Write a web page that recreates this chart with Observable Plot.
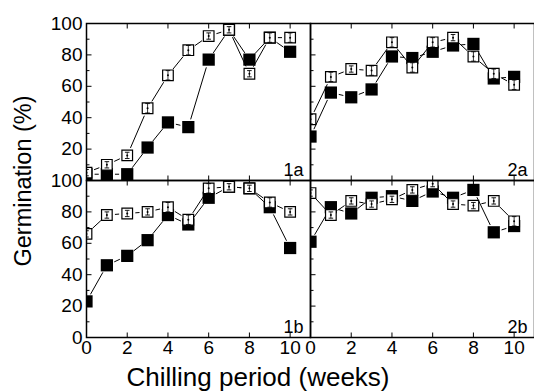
<!DOCTYPE html>
<html><head><meta charset="utf-8">
<script src="https://cdn.jsdelivr.net/npm/d3@7"></script>
<script src="https://cdn.jsdelivr.net/npm/@observablehq/plot@0.6"></script>
<style>body{margin:0;background:#fff} svg{display:block}</style>
</head><body><div id="chart"></div>
<script>
const weeks = [0,1,2,3,4,5,6,7,8,9,10];
// open squares (with error bars) and filled squares for each panel
const open1a   = [5, 10, 16, 46, 67, 83, 92, 96, 68, 91, 91];
const filled1a = [4, 4, 4, 21, 37, 34, 77, 96, 77, 91, 82];
const open2a   = [39, 66, 71, 70, 88, 72, 88, 91, 79, 68, 61];
const filled2a = [28, 56, 53, 58, 79, 78, 82, 86, 87, 65, 66];
const open1b   = [66, 78, 79, 80, 83, 75, 95, 96, 95, 86, 80];
const filled1b = [23, 46, 52, 62, 78, 72, 89, 96, 95, 83, 57];
const open2b   = [92, 78, 87, 85, 88, 94, 98, 85, 84, 87, 74];
const filled2b = [61, 83, 79, 89, 90, 87, 93, 89, 94, 67, 71];
const err1a = [2, 2, 2, 3, 3, 3, 2, 2, 2, 3, 3];
const err2a = [3, 3, 2, 3, 3, 3, 3, 2, 3, 3, 3];
const err1b = [2, 2, 2, 2, 3, 3, 3, 2, 2, 3, 2];
const err2b = [2, 2, 2, 2, 2, 2, 2, 2, 2, 2, 3];
const panelNames = ["1a", "2a", "1b", "2b"];
const xTicks = [0, 2, 4, 6, 8, 10];
const yTicks = [0, 20, 40, 60, 80, 100];
const yMinor = [10, 30, 50, 70, 90];
const yLabelsTop = [20, 40, 60, 80, 100];
const yLabelsBottom = [0, 20, 40, 60, 80, 100];
const xTitle = "Chilling period (weeks)";
const yTitle = "Germination (%)";

const series = [
  {p:"1a", type:"filled", v:filled1a}, {p:"1a", type:"open", v:open1a, e:err1a},
  {p:"2a", type:"filled", v:filled2a}, {p:"2a", type:"open", v:open2a, e:err2a},
  {p:"1b", type:"filled", v:filled1b}, {p:"1b", type:"open", v:open1b, e:err1b},
  {p:"2b", type:"filled", v:filled2b}, {p:"2b", type:"open", v:open2b, e:err2b}
];
const col = p => +p[0], row = p => p[1];
const pts = series.flatMap(s => s.v.map((v,i) => ({col:col(s.p), row:row(s.p), type:s.type, week:weeks[i], value:v, err:s.e ? s.e[i] : 0})));
const segs = series.flatMap(s => s.v.slice(1).map((v,i) => ({col:col(s.p), row:row(s.p), x1:weeks[i], y1:s.v[i], x2:weeks[i+1], y2:v})));
const labels = panelNames.map(p => ({col:col(p), row:row(p), text:p}));
const yLabels = [
  ...yLabelsTop.map(v => ({col:1, row:"a", v})),
  ...yLabelsBottom.map(v => ({col:1, row:"b", v}))
];
const filled = pts.filter(d => d.type === "filled");
const open = pts.filter(d => d.type === "open");

const seg = (x1,y1,x2,y2) => ({draw(ctx){ctx.moveTo(x1,y1); ctx.lineTo(x2,y2);}});
const cap = seg(-2.3,0,2.3,0);

const svg = Plot.plot({
  width: 534, height: 391,
  marginLeft: 86, marginRight: 0, marginTop: 22, marginBottom: 54,
  x: {domain: [0, 11], axis: null},
  y: {domain: [0, 100], axis: null},
  fx: {domain: [1, 2], axis: null, padding: 0},
  fy: {domain: ["a", "b"], axis: null, padding: 0},
  style: {fontFamily: "'Liberation Sans', Arial, sans-serif", background: "white", color: "black"},
  marks: [
    Plot.dot(xTicks, {x: d => d, frameAnchor: "bottom", symbol: seg(0,0,0,-5), fill: "none", stroke: "black", strokeWidth: 1}),
    Plot.dot(xTicks, {x: d => d, frameAnchor: "top", symbol: seg(0,0,0,5), fill: "none", stroke: "black", strokeWidth: 1}),
    Plot.dot(yTicks, {y: d => d, frameAnchor: "left", symbol: seg(0,0,5,0), fill: "none", stroke: "black", strokeWidth: 1}),
    Plot.dot(yMinor, {y: d => d, frameAnchor: "left", symbol: seg(0,0,3,0), fill: "none", stroke: "black", strokeWidth: 1}),
    Plot.text(yLabels, {y: "v", fx: "col", fy: "row", text: d => String(d.v), frameAnchor: "left", textAnchor: "end", dx: -4, fontSize: 19, fill: "black"}),
    Plot.axisX(xTicks, {anchor: "bottom", tickSize: 0, tickPadding: 3, fontSize: 19, label: null, facetAnchor: "bottom"}),
    Plot.arrow(segs, {x1: "x1", y1: "y1", x2: "x2", y2: "y2", fx: "col", fy: "row", inset: 8.5, headLength: 0, stroke: "black", strokeWidth: 1, clip: true}),
    Plot.dot(filled, {x: "week", y: "value", fx: "col", fy: "row", symbol: "square", r: 6.9, fill: "black", stroke: "none", clip: true}),
    Plot.dot(open, {x: "week", y: "value", fx: "col", fy: "row", symbol: "square", r: 6.0, fill: "white", stroke: "black", strokeWidth: 1.2, clip: true}),
    Plot.link(open, {x1: "week", x2: "week", y1: d => d.value - d.err, y2: d => d.value + d.err, fx: "col", fy: "row", stroke: "black", strokeWidth: 0.8, clip: true}),
    Plot.dot(open, {x: "week", y: d => d.value - d.err, fx: "col", fy: "row", symbol: cap, fill: "none", stroke: "black", strokeWidth: 0.9, clip: true}),
    Plot.dot(open, {x: "week", y: d => d.value + d.err, fx: "col", fy: "row", symbol: cap, fill: "none", stroke: "black", strokeWidth: 0.9, clip: true}),
    Plot.dot(open, {x: "week", y: "value", fx: "col", fy: "row", r: 1, fill: "black", clip: true}),
    Plot.text(labels, {fx: "col", fy: "row", text: "text", frameAnchor: "bottom-right", dx: -7, dy: -5, fontSize: 18}),
    Plot.frame({stroke: "black", strokeWidth: 1.5})
  ]
});
document.getElementById("chart").appendChild(svg);
const s = d3.select(svg);
s.append("text").attr("x", 258).attr("y", 386).attr("text-anchor", "middle")
  .attr("font-size", 26).attr("fill", "black").text(xTitle);
s.append("text").attr("transform", "translate(31,181) rotate(-90)").attr("text-anchor", "middle")
  .attr("font-size", 23.5).attr("fill", "black").text(yTitle);
</script>
</body></html>
